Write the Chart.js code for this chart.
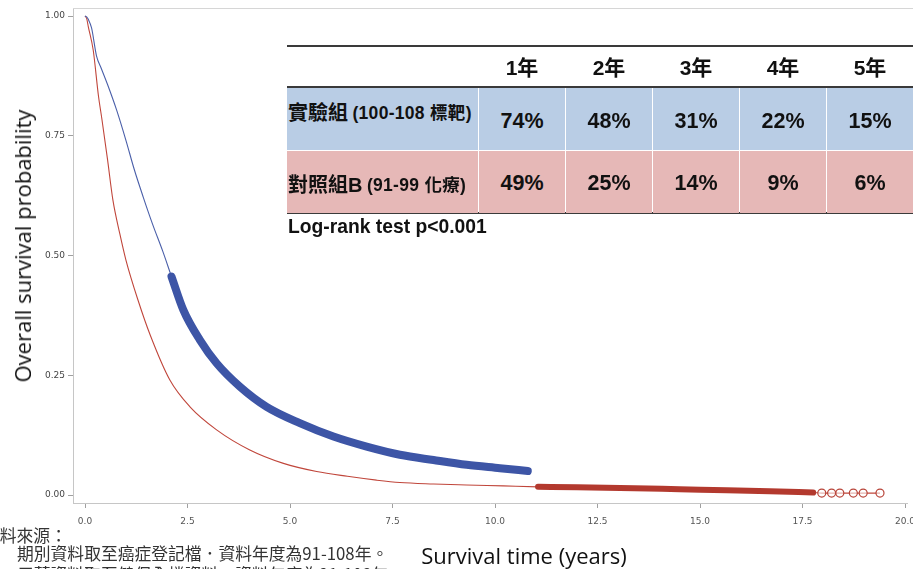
<!DOCTYPE html>
<html><head><meta charset="utf-8">
<script src="https://cdn.jsdelivr.net/npm/chart.js@4/dist/chart.umd.min.js"></script>
<style>
html,body{margin:0;padding:0;background:#fff;}
#wrap{position:relative;width:913px;height:569px;overflow:hidden;background:#fff;}
#c{position:absolute;left:0;top:0;}
.ytitle{position:absolute;left:22px;top:246px;transform:translate(-50%,-50%) rotate(-90deg);font-family:'Open Sans',sans-serif;font-size:22px;color:#111;white-space:nowrap;line-height:1;}
.xtitle{position:absolute;left:524px;top:555px;transform:translate(-50%,-50%);font-family:'Open Sans',sans-serif;font-size:22px;color:#111;white-space:nowrap;line-height:1;}
.note{position:absolute;font-family:'Noto Sans CJK TC',sans-serif;font-size:16.8px;color:#333;white-space:nowrap;line-height:1;}
.cell{position:absolute;display:flex;align-items:center;justify-content:center;font-family:'Liberation Sans','Noto Sans CJK TC',sans-serif;font-weight:bold;color:#111;box-sizing:border-box;white-space:nowrap;}
.hline{position:absolute;height:2px;background:#3a3a3a;}
.lr{position:absolute;left:288px;top:216px;font-family:'Liberation Sans',sans-serif;font-weight:bold;font-size:19.3px;color:#111;white-space:nowrap;line-height:22px;}
</style></head>
<body>
<div id="wrap">
<canvas id="c" width="913" height="569"></canvas>
<div class="ytitle">Overall survival probability</div>
<div class="xtitle">Survival time (years)</div>
<div class="note" style="left:-17px;top:527px;">資料來源：</div>
<div class="note" style="left:17px;top:545px;">期別資料取至癌症登記檔．資料年度為91-108年。</div>
<div class="note" style="left:17px;top:566px;">用藥資料取至健保全檔資料，資料年度為91-108年</div>
<div id="tbl"></div>
<div class="lr">Log-rank test p&lt;0.001</div>
</div>
<script>
// ---- data ----
const xTickValues = [0, 2.5, 5, 7.5, 10, 12.5, 15, 17.5, 20];
const xTickLabels = ['0.0', '2.5', '5.0', '7.5', '10.0', '12.5', '15.0', '17.5', '20.0'];
const yTickValues = [0, 0.25, 0.5, 0.75, 1];
const yTickLabels = ['0.00', '0.25', '0.50', '0.75', '1.00'];

// 實驗組 (blue) curve before censor band
const blueTime = [0, 0.04, 0.08, 0.16, 0.28, 0.4, 0.55, 0.77, 1.0, 1.2, 1.42, 1.65, 1.9, 2.11];
const blueSurv = [1.0, 0.998, 0.993, 0.975, 0.917, 0.89, 0.857, 0.804, 0.74, 0.68, 0.622, 0.565, 0.508, 0.456];
// blue dense censoring band
const blueBandTime = [2.11, 2.4, 2.8, 3.21, 3.78, 4.43, 5.24, 6.06, 6.87, 7.68, 8.5, 9.31, 10.12, 10.8];
const blueBandSurv = [0.456, 0.386, 0.324, 0.275, 0.226, 0.184, 0.150, 0.122, 0.101, 0.084, 0.073, 0.063, 0.056, 0.050];

// 對照組B (red) curve before censor band
const redTime = [0, 0.04, 0.08, 0.2, 0.33, 0.41, 0.55, 0.68, 0.85, 1.0, 1.3, 1.59, 2.07, 2.56, 3.21, 4.02, 4.84, 5.65, 6.4, 7.11, 7.68, 8.5, 9.3, 10.2, 11.05];
const redSurv = [1.0, 0.995, 0.978, 0.929, 0.832, 0.786, 0.70, 0.616, 0.545, 0.49, 0.405, 0.334, 0.24, 0.184, 0.136, 0.094, 0.066, 0.049, 0.039, 0.031, 0.026, 0.023, 0.021, 0.019, 0.017];
// red dense censoring band
const redBandTime = [11.05, 12.0, 13.4, 14.5, 15.65, 16.7, 17.76];
const redBandSurv = [0.017, 0.016, 0.014, 0.012, 0.010, 0.008, 0.005];
// red isolated censored points at the tail
const redTailTime = [17.97, 18.21, 18.41, 18.74, 18.98, 19.39];
const redTailSurv = [0.004, 0.004, 0.004, 0.004, 0.004, 0.004];

// survival table
const yearLabels = ['1年', '2年', '3年', '4年', '5年'];
const groupNames = ['實驗組', '對照組B'];
const groupNotes = ['(100-108 標靶)', '(91-99 化療)'];
const blueRates = [74, 48, 31, 22, 15];
const redRates = [49, 25, 14, 9, 6];

// ---- table (HTML text) ----
(function buildTable(){
  const t = document.getElementById('tbl');
  const add = (html, css, cls) => { const d = document.createElement('div'); d.className = cls || 'cell'; d.style.cssText = css; d.innerHTML = html; t.appendChild(d); return d; };
  const colX = [479, 566, 653, 740, 827];
  const colW = [86, 86, 86, 86, 86];
  add('', 'left:287px;top:45px;width:626px;', 'hline');
  add('', 'left:287px;top:86px;width:626px;', 'hline');
  add('', 'left:287px;top:212px;width:626px;', 'hline');
  yearLabels.forEach((y, i) => add(y, `left:${colX[i]}px;top:47px;width:${colW[i]}px;height:39px;font-size:21px;padding-bottom:1px;`));
  const rows = [{top:88, bg:'#b9cde5', rates:blueRates, lab:-16, val:4}, {top:151, bg:'#e6b8b7', rates:redRates, lab:2, val:2}];
  rows.forEach((r, k) => {
    add(`<span style="font-size:20px">${groupNames[k]}</span>&nbsp;<span style="font-size:17.5px;letter-spacing:0.3px">${groupNotes[k]}</span>`,
      `left:287px;top:${r.top}px;width:191px;height:62px;background:${r.bg};justify-content:flex-start;padding-left:1px;padding-top:${Math.max(0,r.lab)}px;padding-bottom:${Math.max(0,-r.lab)}px;overflow:hidden;`);
    r.rates.forEach((v, i) => add(v + '%', `left:${colX[i]}px;top:${r.top}px;width:${colW[i]}px;height:62px;background:${r.bg};font-size:21.5px;padding-top:${r.val}px;`));
  });
})();

// ---- chart ----
const pts = (xs, ys) => xs.map((x, i) => ({x: x, y: ys[i]}));
const frame = {
  id: 'frame',
  beforeDatasetsDraw(chart) {
    const {ctx, chartArea: a} = chart;
    ctx.save();
    ctx.strokeStyle = '#d6d6d6';
    ctx.lineWidth = 1;
    ctx.beginPath();
    ctx.moveTo(a.left, a.top + 0.5);
    ctx.lineTo(913, a.top + 0.5);
    ctx.stroke();
    ctx.restore();
  }
};
// pixel anchors of the reference axes (x: 0 -> 85px, 41px per year; y: 1 -> 16px, 0 -> 495px)
const X0 = 85, XPX = 41, Y1 = 16, Y0 = 495;

const chart = new Chart(document.getElementById('c'), {
  type: 'scatter',
  data: {
    datasets: [
      {label: 'red', data: pts(redTime.concat(redBandTime.slice(1), redTailTime), redSurv.concat(redBandSurv.slice(1), redTailSurv)),
       showLine: true, borderColor: '#c0463b', borderWidth: 1.1, pointRadius: 0, cubicInterpolationMode: 'monotone', order: 5},
      {label: 'redBand', data: pts(redBandTime, redBandSurv), showLine: true, borderColor: '#b3392e',
       borderWidth: 6, borderCapStyle: 'round', borderJoinStyle: 'round', pointRadius: 0, cubicInterpolationMode: 'monotone', order: 4},
      {label: 'redTail', data: pts(redTailTime, redTailSurv), showLine: false, pointStyle: 'circle',
       pointRadius: 4, borderColor: '#b8453a', borderWidth: 1.2, backgroundColor: 'rgba(255,255,255,0.6)', order: 3},
      {label: 'blue', data: pts(blueTime.concat(blueBandTime.slice(1)), blueSurv.concat(blueBandSurv.slice(1))),
       showLine: true, borderColor: '#4a5fa9', borderWidth: 1.1, pointRadius: 0, cubicInterpolationMode: 'monotone', order: 2},
      {label: 'blueBand', data: pts(blueBandTime, blueBandSurv), showLine: true, borderColor: '#3d55a6',
       borderWidth: 8, borderCapStyle: 'round', borderJoinStyle: 'round', pointRadius: 0, cubicInterpolationMode: 'monotone', order: 1}
    ]
  },
  options: {
    responsive: false,
    animation: false,
    devicePixelRatio: 1,
    layout: {padding: {top: 8, left: 0, right: -6, bottom: 0}},
    plugins: {legend: {display: false}, tooltip: {enabled: false}},
    scales: {
      x: {
        type: 'linear', min: -12 / 41, max: 20 + 8 / 41,
        afterBuildTicks: s => { s.ticks = xTickValues.map(v => ({value: v})); },
        afterFit: s => { s.height = 66; s.paddingLeft = 0; s.paddingRight = 0; },
        grid: {drawOnChartArea: false, drawTicks: true, tickLength: 5, tickColor: '#a0a0a0'},
        border: {display: true, color: '#c6c6c6', width: 1},
        ticks: {padding: 8, color: '#555', font: {family: 'DejaVu Sans', size: 9}, maxRotation: 0, autoSkip: false,
                callback: v => xTickLabels[xTickValues.indexOf(v)]}
      },
      y: {
        type: 'linear', min: -8 / 479, max: 1 + 8 / 479,
        afterBuildTicks: s => { s.ticks = yTickValues.map(v => ({value: v})); },
        afterFit: s => { s.width = 73; s.paddingTop = 0; s.paddingBottom = 0; },
        grid: {drawOnChartArea: false, drawTicks: true, tickLength: 5, tickColor: '#a0a0a0'},
        border: {display: true, color: '#c6c6c6', width: 1},
        ticks: {padding: 3, color: '#444', font: {family: 'DejaVu Sans', size: 9}, autoSkip: false,
                callback: v => yTickLabels[yTickValues.indexOf(v)]}
      }
    }
  },
  plugins: [frame]
});
// align the scales with the reference pixel anchors once the chart area is known
(function align(){
  const a = chart.chartArea;
  const xs = chart.options.scales.x, ys = chart.options.scales.y;
  xs.min = (a.left - X0) / XPX;
  xs.max = (a.right - X0) / XPX;
  const ypx = (Y0 - Y1);
  ys.max = 1 + (Y1 - a.top) / ypx;
  ys.min = -(a.bottom - Y0) / ypx;
  chart.update();
})();
</script>
</body></html>
